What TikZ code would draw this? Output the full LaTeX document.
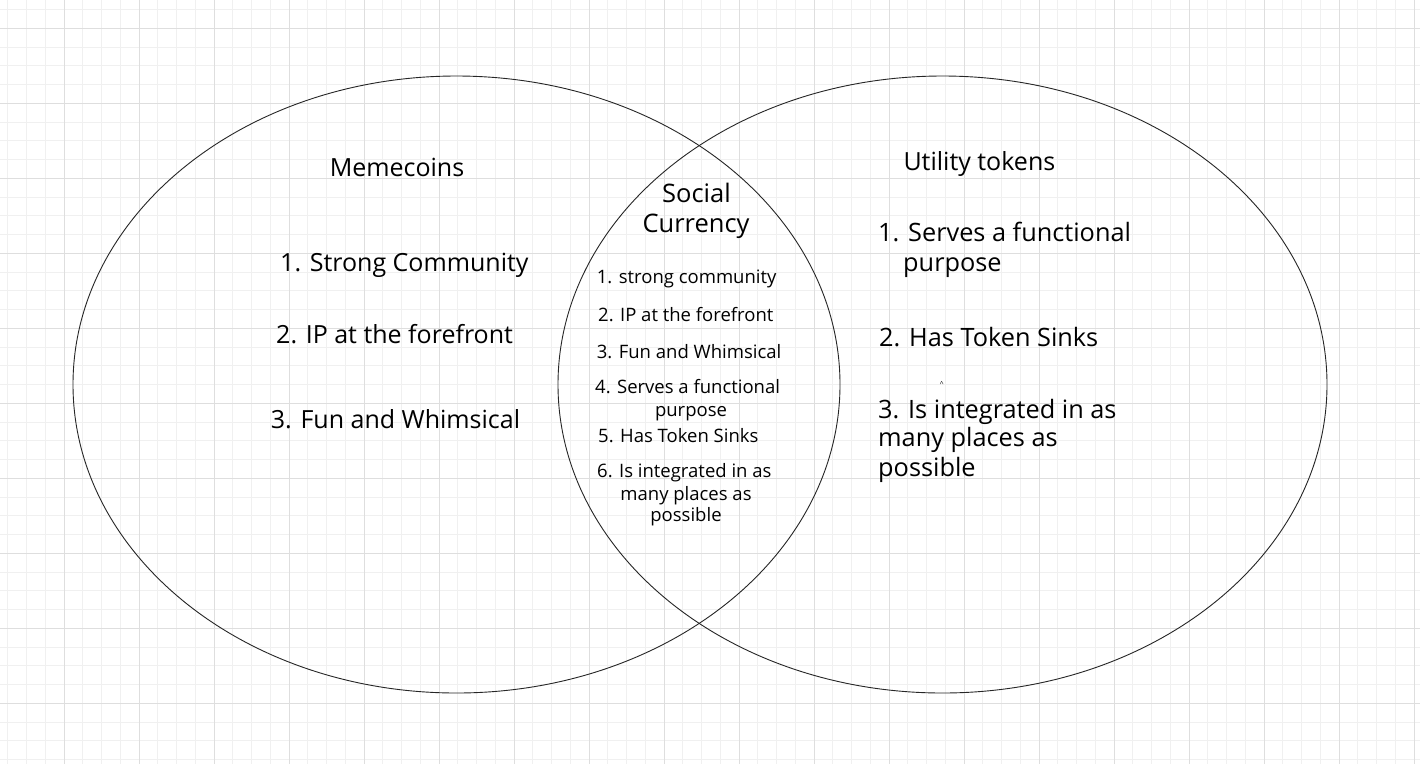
\documentclass[tikz,border=0pt]{standalone}
\usepackage{fontspec}
\setmainfont{Open Sans}
\begin{document}
\begin{tikzpicture}[x=1pt,y=-1pt,
  minorline/.style={draw=black!6,line width=0.8pt},
  majorline/.style={draw=black!13,line width=0.9pt},
  venn/.style={draw=black!85,line width=0.9pt},
  titletxt/.style={inner sep=0pt,font=\fontsize{25}{30}\selectfont},
  bigtxt/.style={inner sep=0pt,font=\fontsize{25}{30}\selectfont},
  soctxt/.style={inner sep=0pt,font=\fontsize{25.5}{30}\selectfont},
  uttxt/.style={inner sep=0pt,font=\fontsize{25.3}{30}\selectfont},
  smalltxt/.style={inner sep=0pt,font=\fontsize{18.5}{22}\selectfont},
  tinytxt/.style={inner sep=0pt,font=\fontsize{7}{8}\selectfont}]
\useasboundingbox (0,0) rectangle (1420,764);
\fill[white] (0,0) rectangle (1420,764);
% grid
\foreach \k in {0,...,76} {
  \draw[minorline] ({7.75+18.75*\k},0) -- ({7.75+18.75*\k},764);
}
\foreach \k in {0,...,41} {
  \draw[minorline] (0,{9.6+18.75*\k}) -- (1420,{9.6+18.75*\k});
}
\foreach \k in {0,...,18} {
  \draw[majorline] ({64+75*\k},0) -- ({64+75*\k},764);
}
\foreach \k in {0,...,10} {
  \draw[majorline] (0,{28+75*\k}) -- (1420,{28+75*\k});
}
% circles
\draw[venn] (456.5,384.5) ellipse [x radius=383.5, y radius=308.5];
\draw[venn] (942.5,384.5) ellipse [x radius=384.5, y radius=308.5];
% Memecoins
\node[titletxt,anchor=base] (mt) at (397,176.7) {Memecoins};
\node[bigtxt,anchor=base west] (m1) at (280,271.7) {1. Strong Community};
\node[bigtxt,anchor=base west] (m2) at (276,343) {2. IP at the forefront};
\node[bigtxt,anchor=base west] (m3) at (270.7,428) {3. Fun and Whimsical};
% Social currency
\node[soctxt,anchor=base] (st1) at (696.5,202.7) {Social};
\node[soctxt,anchor=base] (st2) at (696,232.7) {Currency};
\node[smalltxt,anchor=base west] (s1) at (596.7,283) {1. strong community};
\node[smalltxt,anchor=base west] (s2) at (598,321.7) {2. IP at the forefront};
\node[smalltxt,anchor=base west] (s3) at (596.7,358) {3. Fun and Whimsical};
\node[smalltxt,anchor=base west] (s4) at (595,393) {4. Serves a functional};
\node[smalltxt,anchor=base] (s4b) at (691,416.7) {purpose};
\node[smalltxt,anchor=base west] (s5) at (598,442.7) {5. Has Token Sinks};
\node[smalltxt,anchor=base west] (s6) at (597,477) {6. Is integrated in as};
\node[smalltxt,anchor=base] (s6b) at (686,500) {many places as};
\node[smalltxt,anchor=base] (s6c) at (686,521.7) {possible};
% Utility tokens
\node[titletxt,anchor=base west] (ut) at (903.3,170) {Utility tokens};
\node[uttxt,anchor=base west] (u1) at (878,241.7) {1. Serves a functional};
\node[uttxt,anchor=base west] (u1b) at (903,271.7) {purpose};
\node[uttxt,anchor=base west] (u2) at (879,346.7) {2. Has Token Sinks};
\node[tinytxt,anchor=center] (caret) at (941.7,383.5) {\textasciicircum};
\node[uttxt,anchor=base west] (u3) at (878,418.3) {3. Is integrated in as};
\node[uttxt,anchor=base west] (u3b) at (878,446.7) {many places as};
\node[uttxt,anchor=base west] (u3c) at (878,476.7) {possible};
\end{tikzpicture}
\end{document}
